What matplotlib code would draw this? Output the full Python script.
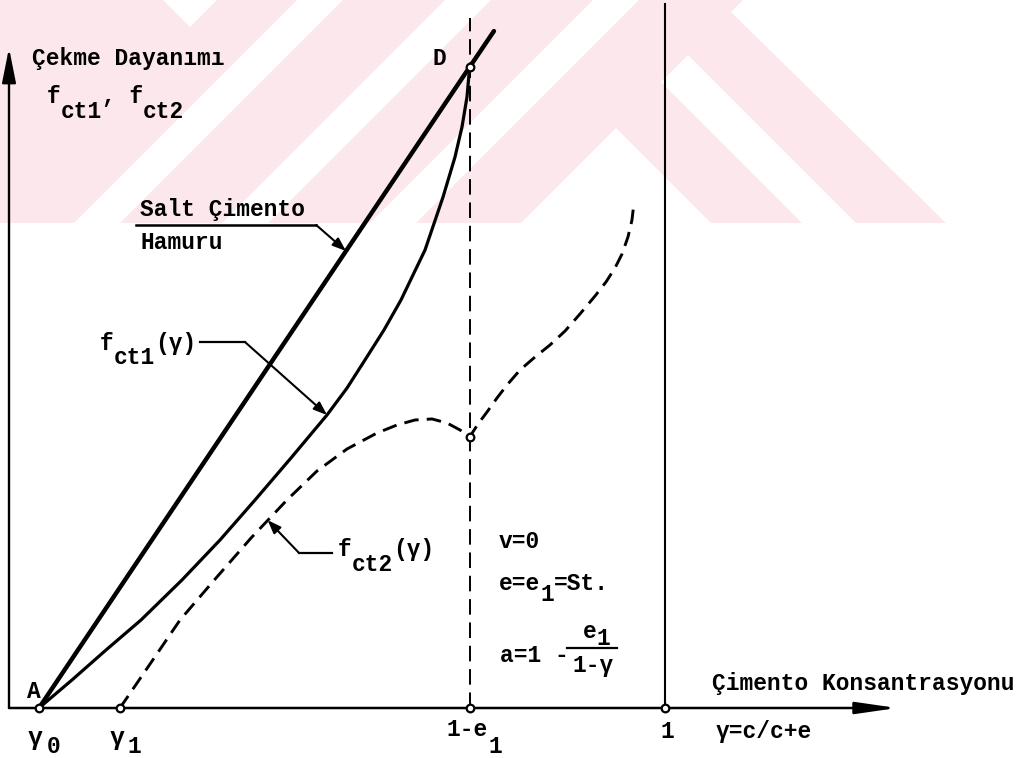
import matplotlib
matplotlib.use("Agg")
import matplotlib.pyplot as plt
from matplotlib.patches import Polygon

plt.rcParams['font.family'] = ['Liberation Mono', 'DejaVu Sans Mono']

# cement concentration gamma and tensile strength (relative to D = 1)
gamma0 = 0.20
gamma1 = 0.303
e1 = 0.25
one_e1 = 1.0 - e1

# pure cement paste: straight line A -> D, drawn a bit past D
salt_x = [0.200, 0.750, 0.781]
salt_y = [0.000, 1.000, 1.056]

# f_ct1(gamma)
fct1_x = [0.2000, 0.2421, 0.2856, 0.3303, 0.3826, 0.4312, 0.4759, 0.5218,
          0.5678, 0.5934, 0.6163, 0.6406, 0.6623, 0.6930, 0.7160, 0.7313,
          0.7402, 0.7466, 0.7500]
fct1_y = [0.0000, 0.0437, 0.0905, 0.1373, 0.1997, 0.2621, 0.3245, 0.3900,
          0.4571, 0.4992, 0.5429, 0.5897, 0.6365, 0.7145, 0.7972, 0.8596,
          0.9064, 0.9532, 1.0000]

# f_ct2(gamma), with the kink at 1-e1
fct2_x = [0.3034, 0.3418, 0.3801, 0.4261, 0.4708, 0.5167, 0.5550, 0.5934,
          0.6317, 0.6572, 0.6802, 0.7019, 0.7211, 0.7377, 0.7500,
          0.7607, 0.7722, 0.7849, 0.7977, 0.8143, 0.8335, 0.8526, 0.8718,
          0.8909, 0.9101, 0.9241, 0.9356, 0.9446, 0.9522, 0.9573, 0.9598]
fct2_y = [0.0000, 0.0686, 0.1373, 0.2028, 0.2652, 0.3245, 0.3697, 0.4041,
          0.4290, 0.4415, 0.4493, 0.4509, 0.4446, 0.4337, 0.4228,
          0.4431, 0.4618, 0.4836, 0.5039, 0.5273, 0.5476, 0.5663, 0.5881,
          0.6147, 0.6427, 0.6646, 0.6864, 0.7083, 0.7348, 0.7613, 0.7878]
kink = 14

fig = plt.figure(figsize=(10.31, 7.58), dpi=100)

# pale background stamp (pixel space)
bg = fig.add_axes([0, 0, 1, 1], zorder=0)
bg.set_xlim(0, 1031)
bg.set_ylim(758, 0)
bg.axis('off')
pink = '#fce8ec'
bg.add_patch(Polygon([(0, 0), (743, 0), (731, 12), (946, 223), (0, 223)],
                     closed=True, fc=pink, ec='none'))
for poly in [
    [(163, 0), (217, 0), (190, 27)],
    [(297, 0), (343, 0), (120, 223), (74, 223)],
    [(445, 0), (491, 0), (268, 223), (222, 223)],
    [(593, 0), (639, 0), (416, 223), (370, 223)],
    [(688, 55), (856, 223), (802, 223), (661, 82)],
    [(616, 128), (711, 223), (521, 223)],
]:
    bg.add_patch(Polygon(poly, closed=True, fc='white', ec='none'))

ax = fig.add_axes([0, 0, 1, 1], zorder=1)
ax.patch.set_alpha(0)
ax.set_xlim(0.1502, 1.4669)
ax.set_ylim(-0.0780, 1.1045)
ax.axis('off')

k = 'black'
fs = 16.5
adv = 0.6 * fs  # monospace advance, points
px = 0.72       # one pixel in points

# axes with arrows
ax.annotate('', xy=(0.1617, 1.0296), xytext=(0.1617, 0.0),
            arrowprops=dict(arrowstyle='-|>,head_length=2.1,head_width=0.42',
                            lw=1.7, color=k, shrinkA=0, shrinkB=0))
ax.annotate('', xy=(1.2958, 0.0), xytext=(0.1617, 0.0),
            arrowprops=dict(arrowstyle='-|>,head_length=2.5,head_width=0.36',
                            lw=1.8, color=k, shrinkA=0, shrinkB=0))

# gamma = 1 and gamma = 1-e1 verticals
ax.plot([1.0, 1.0], [0.0, 1.098], color=k, lw=1.5)
ax.plot([one_e1, one_e1], [0.0, 1.076], color=k, lw=1.4,
        linestyle=(0, (8, 4)))

# curves
ax.plot(salt_x, salt_y, color=k, lw=3.2, solid_capstyle='round')
ax.plot(fct1_x, fct1_y, color=k, lw=2.3)
ax.plot(fct2_x, fct2_y, color=k, lw=2.1, linestyle=(0, (5, 2.8)))

# small circles
pts_x = [gamma0, gamma1, one_e1, 1.0, one_e1, one_e1]
pts_y = [0.0, 0.0, 0.0, 0.0, 1.0, fct2_y[kink]]
ax.plot(pts_x, pts_y, 'o', ms=5.5, mfc='white', mec=k, mew=1.6, zorder=5)

arrow_kw = dict(arrowstyle='-|>,head_length=0.8,head_width=0.3',
                lw=1.5, color=k, shrinkA=0, shrinkB=0)
# leader for "Salt Cimento / Hamuru"
ax.plot([0.324, 0.554], [0.7535, 0.7535], color=k, lw=1.8)
ax.annotate('', xy=(0.592, 0.713), xytext=(0.554, 0.7535), arrowprops=arrow_kw)
# leader for f_ct1
ax.plot([0.4056, 0.463], [0.571, 0.571], color=k, lw=1.6)
ax.annotate('', xy=(fct1_x[8], fct1_y[8]), xytext=(0.463, 0.571),
            arrowprops=arrow_kw)
# leader for f_ct2
ax.plot([0.532, 0.574], [0.242, 0.242], color=k, lw=1.6)
ax.annotate('', xy=(0.492, 0.293), xytext=(0.532, 0.242), arrowprops=arrow_kw)


def mono(x, y, parts, size=fs):
    """Typewriter style text: parts are (string, drop in pixels)."""
    n = 0
    for s, drop in parts:
        ax.annotate(s, xy=(x, y), xytext=(n * 0.6 * size, -drop * px),
                    textcoords='offset points', ha='left', va='baseline',
                    fontsize=size, color=k, fontweight='bold')
        n += len(s)


mono(0.191, 1.003, [('Çekme Dayanımı', 0)])
mono(0.210, 0.944, [('f', 0), ('ct1', 15), (', f', 0), ('ct2', 15)])
mono(0.703, 1.003, [('D', 0)])
mono(0.185, 0.0156, [('A', 0)])

mono(0.329, 0.768, [('Salt Çimento', 0)])
mono(0.330, 0.716, [('Hamuru', 0)])

mono(0.278, 0.5585, [('f', 0), ('ct1', 14), ('(γ)', 0)])
mono(0.582, 0.237, [('f', 0), ('ct2', 15), ('(γ)', 0)])

mono(0.7875, 0.2496, [('v=0', 0)])
mono(0.7875, 0.184, [('e=e', 0), ('1', 11), ('=St.', 0)])
mono(0.789, 0.0718, [('a=1 -', 0)])
ax.plot([0.874, 0.938], [0.0936, 0.0936], color=k, lw=1.6)
mono(0.895, 0.109, [('e', 0), ('1', 7)])
mono(0.881, 0.0562, [('1-γ', 0)])

mono(1.0595, 0.028, [('Çimento Konsantrasyonu', 0)])

# labels under the abscissa
mono(0.186, -0.0577, [('γ', 0)], size=18)
mono(0.210, -0.070, [('0', 0)])
mono(0.2907, -0.0577, [('γ', 0)], size=18)
mono(0.3124, -0.070, [('1', 0)])
mono(0.721, -0.0437, [('1-e', 0), ('1', 17)])
mono(0.994, -0.0468, [('1', 0)])
mono(1.0646, -0.0468, [('γ=c/c+e', 0)])

fig.savefig('out.png', dpi=100)
